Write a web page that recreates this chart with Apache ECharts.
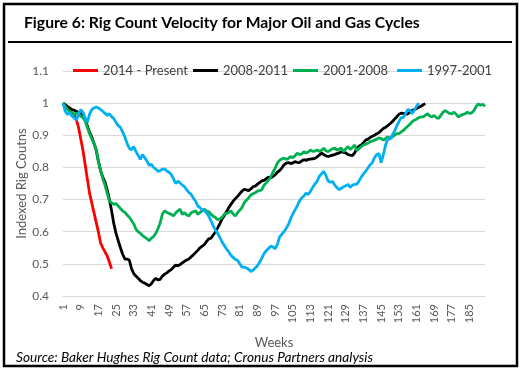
<!DOCTYPE html>
<html>
<head>
<meta charset="utf-8">
<script src="https://cdn.jsdelivr.net/npm/echarts@6/dist/echarts.min.js"></script>
<style>
html,body{margin:0;padding:0;background:#fff;}
#chart{width:523px;height:371px;}
</style>
</head>
<body>
<div id="chart"></div>
<script>
var seriesNames = ["2014 - Present", "2008-2011", "2001-2008", "1997-2001"];
var seriesColors = ["#FF0000", "#000000", "#00B050", "#00B0F0"];

var weeks = [];
for (var i = 1; i <= 192; i++) weeks.push(String(i));

var yTicks = [0.4, 0.5, 0.6, 0.7, 0.8, 0.9, 1, 1.1];

var red2014 = [1.0, 0.99, 0.985, 0.975, 0.97, 0.965, 0.95, 0.925, 0.89, 0.855, 0.81, 0.765, 0.72, 0.69, 0.66, 0.63, 0.60, 0.565, 0.55, 0.537, 0.525, 0.505, 0.485];

var black2008 = [1.0, 0.995, 0.99, 0.985, 0.98, 0.978, 0.975, 0.97, 0.968, 0.962,
  0.95, 0.93, 0.91, 0.895, 0.875, 0.855, 0.82, 0.79, 0.77, 0.755,
  0.73, 0.70, 0.665, 0.625, 0.595, 0.572, 0.55, 0.53, 0.515, 0.515,
  0.512, 0.485, 0.47, 0.462, 0.455, 0.448, 0.443, 0.44, 0.436, 0.432,
  0.438, 0.448, 0.455, 0.45, 0.452, 0.462, 0.468, 0.472, 0.478, 0.482,
  0.49, 0.496, 0.494, 0.498, 0.503, 0.508, 0.512, 0.515, 0.522, 0.528,
  0.535, 0.542, 0.55, 0.555, 0.56, 0.57, 0.578, 0.58, 0.59, 0.60,
  0.612, 0.625, 0.64, 0.65, 0.662, 0.675, 0.685, 0.695, 0.703, 0.71,
  0.718, 0.726, 0.732, 0.73, 0.728, 0.733, 0.74, 0.742, 0.748, 0.753,
  0.758, 0.76, 0.765, 0.77, 0.768, 0.772, 0.777, 0.785, 0.79, 0.798,
  0.808, 0.813, 0.815, 0.812, 0.814, 0.818, 0.816, 0.815, 0.82, 0.824,
  0.822, 0.825, 0.826, 0.827, 0.828, 0.833, 0.838, 0.845, 0.84, 0.836,
  0.834, 0.836, 0.838, 0.84, 0.843, 0.845, 0.849, 0.847, 0.845, 0.84,
  0.838, 0.837, 0.845, 0.86, 0.866, 0.87, 0.877, 0.885, 0.888, 0.893,
  0.897, 0.90, 0.905, 0.908, 0.915, 0.921, 0.925, 0.93, 0.936, 0.942,
  0.95, 0.957, 0.965, 0.969, 0.968, 0.966, 0.967, 0.972, 0.977, 0.98,
  0.983, 0.987, 0.99, 0.995, 0.998];

var green2001 = [1.0, 0.99, 0.98, 0.975, 0.97, 0.965, 0.97, 0.965, 0.96, 0.955,
  0.945, 0.925, 0.905, 0.89, 0.875, 0.855, 0.82, 0.79, 0.765, 0.745,
  0.72, 0.695, 0.69, 0.685, 0.688, 0.68, 0.672, 0.665, 0.66, 0.652,
  0.645, 0.635, 0.625, 0.608, 0.60, 0.595, 0.588, 0.583, 0.578, 0.572,
  0.58, 0.585, 0.595, 0.61, 0.628, 0.655, 0.665, 0.66, 0.657, 0.654,
  0.649, 0.658, 0.665, 0.67, 0.654, 0.659, 0.652, 0.649, 0.659, 0.662,
  0.665, 0.654, 0.66, 0.665, 0.67, 0.664, 0.662, 0.654, 0.648, 0.644,
  0.637, 0.64, 0.645, 0.654, 0.657, 0.659, 0.665, 0.655, 0.649, 0.659,
  0.667, 0.675, 0.69, 0.698, 0.705, 0.714, 0.718, 0.721, 0.726, 0.728,
  0.731, 0.745, 0.752, 0.76, 0.77, 0.785, 0.798, 0.813, 0.822, 0.826,
  0.829, 0.825, 0.828, 0.834, 0.83, 0.836, 0.844, 0.84, 0.842, 0.849,
  0.845, 0.848, 0.854, 0.85, 0.851, 0.854, 0.85, 0.853, 0.86, 0.852,
  0.849, 0.854, 0.858, 0.86, 0.854, 0.857, 0.86, 0.849, 0.858, 0.865,
  0.856, 0.862, 0.87, 0.852, 0.858, 0.865, 0.87, 0.872, 0.875, 0.88,
  0.882, 0.885, 0.888, 0.892, 0.89, 0.885, 0.89, 0.895, 0.89, 0.895,
  0.90, 0.905, 0.905, 0.91, 0.915, 0.922, 0.928, 0.934, 0.942, 0.947,
  0.95, 0.955, 0.957, 0.957, 0.962, 0.967, 0.96, 0.957, 0.962, 0.955,
  0.952, 0.962, 0.972, 0.977, 0.972, 0.968, 0.967, 0.972, 0.965, 0.957,
  0.962, 0.965, 0.967, 0.972, 0.968, 0.97, 0.977, 0.99, 0.998, 0.993,
  0.997, 0.99];

var blue1997 = [1.0, 0.975, 0.965, 0.97, 0.96, 0.955, 0.947, 0.965, 0.98, 0.972,
  0.955, 0.94, 0.965, 0.98, 0.985, 0.988, 0.985, 0.98, 0.975, 0.968,
  0.962, 0.967, 0.958, 0.952, 0.94, 0.93, 0.925, 0.91, 0.895, 0.875,
  0.86, 0.855, 0.865, 0.85, 0.838, 0.825, 0.84, 0.83, 0.82, 0.806,
  0.81, 0.80, 0.795, 0.788, 0.79, 0.795, 0.795, 0.789, 0.785, 0.778,
  0.765, 0.75, 0.757, 0.752, 0.745, 0.74, 0.73, 0.722, 0.716, 0.705,
  0.695, 0.68, 0.675, 0.668, 0.665, 0.658, 0.648, 0.634, 0.618, 0.605,
  0.595, 0.582, 0.568, 0.557, 0.546, 0.538, 0.527, 0.52, 0.514, 0.511,
  0.50, 0.49, 0.49, 0.487, 0.483, 0.476, 0.48, 0.487, 0.494, 0.505,
  0.518, 0.532, 0.541, 0.548, 0.555, 0.553, 0.547, 0.56, 0.583, 0.592,
  0.60, 0.61, 0.622, 0.64, 0.655, 0.668, 0.68, 0.695, 0.705, 0.711,
  0.72, 0.716, 0.726, 0.738, 0.748, 0.757, 0.772, 0.78, 0.788, 0.775,
  0.758, 0.754, 0.756, 0.745, 0.737, 0.731, 0.735, 0.74, 0.743, 0.747,
  0.738, 0.745, 0.747, 0.748, 0.758, 0.77, 0.78, 0.788, 0.798, 0.808,
  0.815, 0.83, 0.84, 0.843, 0.815, 0.84, 0.87, 0.89, 0.888, 0.90,
  0.912, 0.928, 0.942, 0.955, 0.955, 0.967, 0.98, 0.978, 0.967, 0.978,
  0.99, 1.0];

var allData = [red2014, black2008, green2001, blue1997];
var legendLefts = [73, 193, 293, 397];

var chart = echarts.init(document.getElementById('chart'), null, {renderer: 'canvas'});

var series = seriesNames.map(function (n, i) {
  return {
    name: n,
    type: 'line',
    data: allData[i],
    symbol: 'none',
    smooth: false,
    lineStyle: {color: seriesColors[i], width: 2.8},
    itemStyle: {color: seriesColors[i]},
    emphasis: {disabled: true},
    animation: false
  };
});

var legends = seriesNames.map(function (n, i) {
  return {
    data: [n],
    icon: 'rect',
    top: 64,
    left: legendLefts[i],
    padding: 0,
    itemWidth: 25,
    itemHeight: 3,
    itemGap: 0,
    selectedMode: false,
    textStyle: {fontFamily: 'Lato', fontSize: 13, color: '#404040'}
  };
});

chart.setOption({
  animation: false,
  backgroundColor: '#ffffff',
  textStyle: {fontFamily: 'Lato'},
  grid: {left: 63, right: 38, top: 71, bottom: 75, containLabel: false},
  legend: legends,
  xAxis: {
    type: 'category',
    boundaryGap: false,
    data: weeks,
    name: 'Weeks',
    nameLocation: 'middle',
    nameGap: 40,
    nameTextStyle: {fontFamily: 'Lato', fontSize: 13, color: '#595959'},
    axisLine: {show: true, lineStyle: {color: '#D9D9D9', width: 1}},
    axisTick: {show: false},
    axisLabel: {interval: 7, rotate: 90, fontFamily: 'Lato', fontSize: 11, color: '#595959', margin: 8},
    splitLine: {show: false}
  },
  yAxis: {
    type: 'value',
    min: yTicks[0],
    max: yTicks[yTicks.length - 1],
    interval: 0.1,
    name: 'Indexed Rig Coutns',
    nameLocation: 'middle',
    nameGap: 35,
    nameMoveOverlap: false,
    nameTextStyle: {fontFamily: 'Lato', fontSize: 13, color: '#595959'},
    axisLine: {show: false},
    axisTick: {show: false},
    axisLabel: {fontFamily: 'Lato', fontSize: 12, color: '#595959', margin: 14,
      formatter: function (v) { return String(Math.round(v * 10) / 10); }},
    splitLine: {lineStyle: {color: '#D9D9D9', width: 1}}
  },
  graphic: [
    {type: 'rect', shape: {x: 4, y: 4, width: 513, height: 362}, style: {fill: 'none', stroke: '#000', lineWidth: 2.5}, silent: true, z: 100},
    {type: 'line', shape: {x1: 8, y1: 42, x2: 512, y2: 42}, style: {stroke: '#000', lineWidth: 2}, silent: true, z: 100},
    {type: 'text', left: 24, top: 15, style: {text: 'Figure 6: Rig Count Velocity for Major Oil and Gas Cycles', font: 'bold 15.7px Lato', fill: '#000'}, silent: true, z: 100},
    {type: 'text', left: 16, top: 351, style: {text: 'Source: Baker Hughes Rig Count data; Cronus Partners analysis', font: 'italic 13.7px Lato', fill: '#000'}, silent: true, z: 100}
  ],
  series: series
});
</script>
</body>
</html>
